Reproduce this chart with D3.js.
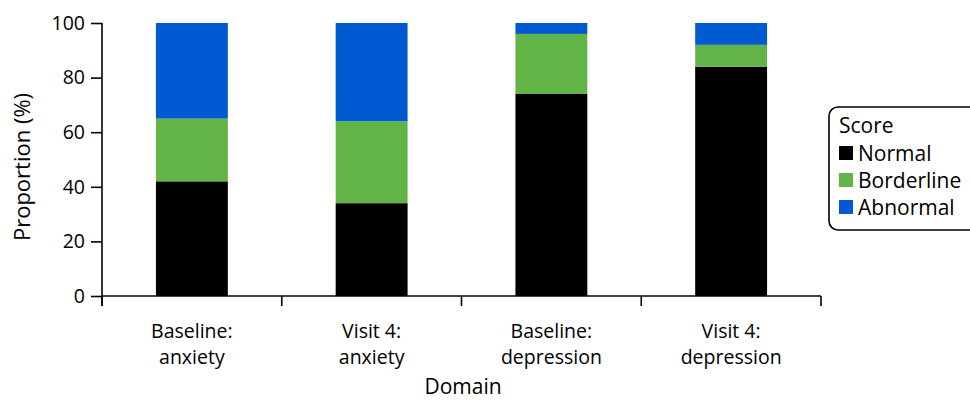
<!DOCTYPE html>
<html><head><meta charset="utf-8">
<script src="https://cdn.jsdelivr.net/npm/d3@7"></script>
<style>body{margin:0;background:#fff}svg text{font-family:"Open Sans",sans-serif;fill:#000}</style>
</head><body><svg id="c" width="970" height="400"></svg>
<script>
const categories = [["Baseline:","anxiety"],["Visit 4:","anxiety"],["Baseline:","depression"],["Visit 4:","depression"]];
const seriesNames = ["Normal","Borderline","Abnormal"];
const normal = [42, 34, 74, 84];
const borderline = [23, 30, 22, 8];
const abnormal = [35, 36, 4, 8];
const colors = ["#000000","#63b446","#005bd3"];
const yTicks = [0,20,40,60,80,100];

const svg = d3.select("#c");
const x = d3.scaleBand().domain(d3.range(categories.length)).range([102,821]).padding(0);
const y = d3.scaleLinear().domain([0,100]).range([296,23]);

const rows = categories.map((c,i)=>({i, Normal: normal[i], Borderline: borderline[i], Abnormal: abnormal[i]}));
const stack = d3.stack().keys(seriesNames)(rows);
const bw = x.bandwidth()*0.4;

svg.append("g").selectAll("g").data(stack).join("g").attr("fill",(d,k)=>colors[k])
  .selectAll("rect").data(d=>d).join("rect")
  .attr("x",d=>x(d.data.i)+x.bandwidth()/2-bw/2).attr("width",bw)
  .attr("y",d=>y(d[1])).attr("height",d=>y(d[0])-y(d[1]));

// y axis
const ya = svg.append("g").attr("transform","translate(102,0)")
  .call(d3.axisLeft(y).tickValues(yTicks).tickSize(11).tickPadding(6));
ya.select(".domain").attr("d","M0,23V306").attr("stroke","#000").attr("stroke-width",1.6);
ya.selectAll(".tick line").attr("stroke","#000").attr("stroke-width",1.6);
ya.selectAll(".tick text").attr("font-size",19.5).attr("font-family","Open Sans").attr("fill","#000");

// x axis
const xa = svg.append("g").attr("transform","translate(0,296)");
xa.append("path").attr("d","M102,0H821").attr("stroke","#000").attr("stroke-width",1.6).attr("fill","none");
const edges = d3.range(categories.length+1).map(i=> i<categories.length ? x(i) : x(i-1)+x.bandwidth());
xa.selectAll("line.t").data(edges).join("line").attr("class","t")
  .attr("x1",d=>d).attr("x2",d=>d).attr("y1",0).attr("y2",10).attr("stroke","#000").attr("stroke-width",1.6);
const lab = xa.selectAll("text.c").data(categories).join("text").attr("class","c")
  .attr("text-anchor","middle").attr("font-size",19.5)
  .attr("x",(d,i)=>x(i)+x.bandwidth()/2);
lab.append("tspan").attr("y",42).text(d=>d[0]).attr("x",(d,i)=>x(i)+x.bandwidth()/2);
lab.append("tspan").attr("y",68).text(d=>d[1]).attr("x",(d,i)=>x(i)+x.bandwidth()/2);

svg.append("text").attr("x",463).attr("y",394).attr("text-anchor","middle").attr("font-size",21).text("Domain");
svg.append("text").attr("transform","translate(30,167) rotate(-90)").attr("text-anchor","middle").attr("font-size",22).text("Proportion (%)");

// legend
const lg = svg.append("g");
lg.append("rect").attr("x",829).attr("y",107).attr("width",160).attr("height",123).attr("rx",9)
  .attr("fill","#fff").attr("stroke","#000").attr("stroke-width",1.6);
lg.append("text").attr("x",839).attr("y",133).attr("font-size",21).text("Score");
seriesNames.forEach((s,k)=>{
  lg.append("rect").attr("x",839).attr("y",146+k*27).attr("width",14).attr("height",14).attr("fill",colors[k]);
  lg.append("text").attr("x",858).attr("y",161+k*27).attr("font-size",21).text(s);
});
</script></body></html>
